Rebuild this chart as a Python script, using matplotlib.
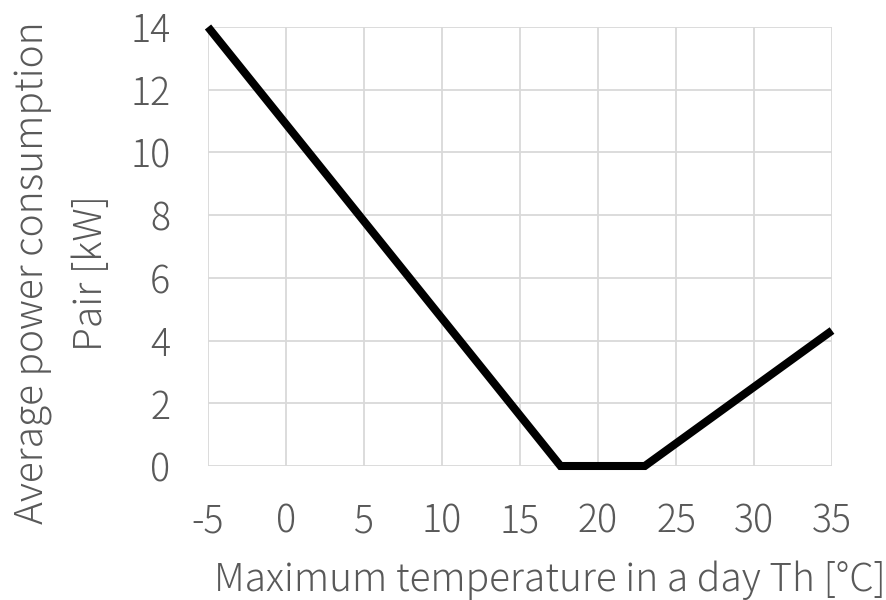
import matplotlib.pyplot as plt

plt.rcParams['font.family'] = ['Noto Sans CJK JP', 'DejaVu Sans']
plt.rcParams['axes.unicode_minus'] = False

# максимальная температура дня и средняя мощность
temp_max = [-5, 17.6, 23.0, 35]
power = [14, 0, 0, 4.32]

x_ticks = [-5, 0, 5, 10, 15, 20, 25, 30, 35]
y_ticks = [0, 2, 4, 6, 8, 10, 12, 14]

text_color = '#595959'
grid_color = '#d9d9d9'

fig = plt.figure(figsize=(8.87, 6), dpi=100)
ax = fig.add_axes([208 / 887, 1 - 466 / 600, (832 - 208) / 887, (466 - 27) / 600])

ax.plot(temp_max, power, color='black', linewidth=5.8, solid_capstyle='butt',
        solid_joinstyle='miter', clip_on=False, zorder=3)

ax.set_xlim(-5, 35)
ax.set_ylim(0, 14)
ax.set_xticks(x_ticks)
ax.set_yticks(y_ticks)
ax.grid(True, color=grid_color, linewidth=1.3)
for s in ax.spines.values():
    s.set_visible(False)
ax.tick_params(length=0, labelsize=27, labelcolor=text_color)
ax.tick_params(axis='y', pad=27)
ax.tick_params(axis='x', pad=26)
for lbl in ax.get_xticklabels() + ax.get_yticklabels():
    lbl.set_fontweight('light')

ax.set_xlabel('Maximum temperature in a day Th [°C]', fontsize=28, color=text_color,
              fontweight='light')
ax.xaxis.set_label_coords(0.548, -0.215)
ax.set_ylabel('Average power consumption\nPair [kW]', fontsize=28, color=text_color,
              fontweight='light', linespacing=1.6)
ax.yaxis.set_label_coords(-0.155, 0.44)

fig.savefig('out.png', dpi=100)
